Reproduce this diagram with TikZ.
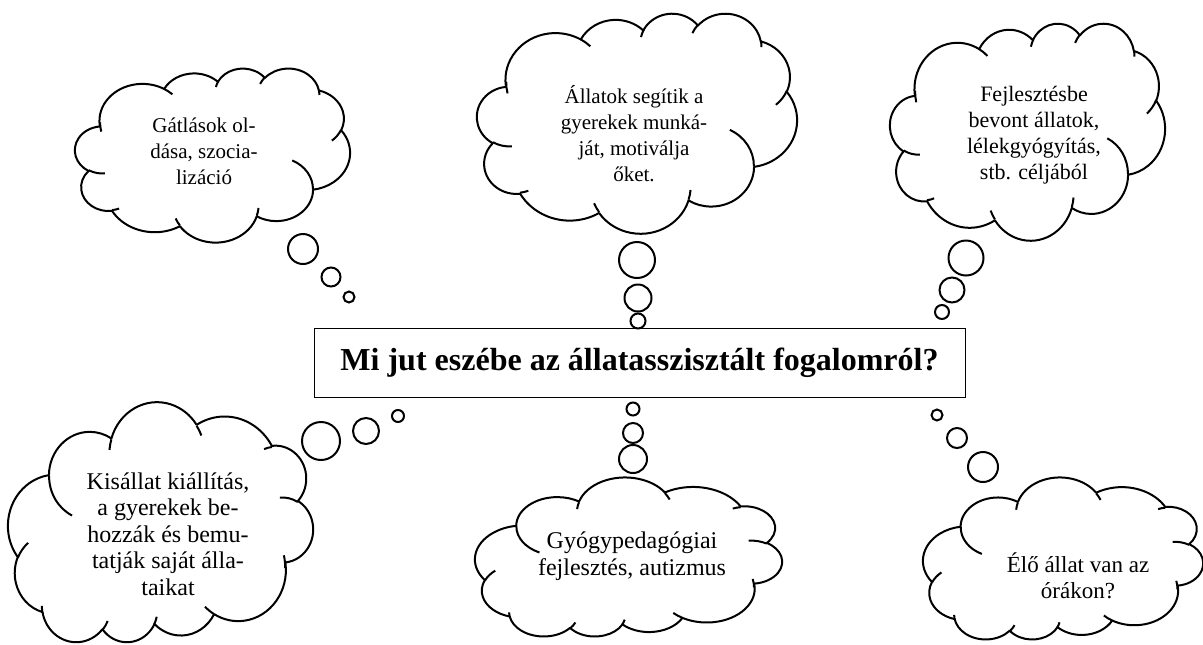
\documentclass[tikz,border=0pt]{standalone}
\usepackage{fontspec}
\setmainfont{Liberation Serif}
\usetikzlibrary{positioning}

\begin{document}
\begin{tikzpicture}[
    x=0.5pt, y=-0.5pt,
    cloudline/.style={draw, line width=1pt, line join=round},
    wcloud/.pic={
      % outline
      \draw[cloudline, fill=white] (9.03,33.26)
        arc (-187.75:-59.64:15.632 and 21.273)
        arc (-151.99:-45.50:12.345 and 16.822)
        arc (-153.46:-37.35:10.104 and 13.762)
        arc (-139.76:-10.19:11.243 and 15.266)
        arc (-74.80:23.26:12.345 and 16.836)
        arc (-37.53:81.86:15.683 and 21.343)
        arc (0.46:121.99:13.391 and 18.211)
        arc (16.89:146.14:15.630 and 21.331)
        arc (59.09:150.10:17.870 and 24.405)
        arc (-276.71:-136.96:10.093 and 13.699)
        arc (-239.79:-95.86:10.058 and 13.762) -- cycle;
      % creases
      \draw[cloudline]
        (10.86,60.60) arc (85.55:120.36:10.058 and 13.762)
        (16.04,80.79) arc (68.24:83.30:10.093 and 13.699)
        (38.14,90.49) arc (146.23:158.47:15.630 and 21.331)
        (66.73,80.44) arc (4.74:16.84:15.630 and 21.331)
        (79.00,53.13) arc (-64.03:0.46:13.391 and 18.211)
        (96.76,35.54) arc (23.21:49.65:12.345 and 16.836)
        (88.71,12.56) arc (-10.21:0.82:11.243 and 15.266)
        (67.31,9.15) arc (-156.29:-139.70:11.243 and 15.266)
        (51.25,10.93) arc (-167.73:-153.49:10.104 and 13.762)
        (32.41,12.02) arc (-59.64:-45.74:15.632 and 21.273)
        (9.55,36.55) arc (166.61:181.05:15.632 and 21.273);
    },
    bubble/.style={circle, draw, line width=1pt, fill=white, inner sep=0pt},
    thought/.style={align=center, inner sep=0pt, font=\fontsize{12}{13.25}\selectfont},
    question/.style={draw, line width=0.5pt, minimum width=325.5pt, minimum height=34.5pt,
      font=\fontsize{16}{19}\selectfont\bfseries},
  ]
  \useasboundingbox (0,0) rectangle (1203,644);

  % Clouds (upper row upright, lower row turned round)
  \pic[xscale=2.75, yscale=1.74] at (75,68) {wcloud};
  \pic[xscale=3.20, yscale=2.20] at (477,13) {wcloud};
  \pic[xscale=2.75, yscale=2.17] at (890,23) {wcloud};
  \pic[xscale=-3.05, yscale=-2.40] at (313,643) {wcloud};
  \pic[xscale=-3.07, yscale=-1.59] at (782,637) {wcloud};
  \pic[xscale=-2.80, yscale=-1.62] at (1203,640) {wcloud};

  % Question
  \node[question] (question) at (639.5,362.5) {Mi jut eszébe az állatasszisztált fogalomról?};

  % Thoughts
  \node[thought, font=\fontsize{10.5}{13}\selectfont] (gatlas) at (204,151) {Gátlások ol-\\dása, szocia-\\lizáció};
  \node[thought, font=\fontsize{10.5}{13}\selectfont] (motival) at (634,134) {Állatok segítik a\\gyerekek munká-\\ját, motiválja\\őket.};
  \node[thought, font=\fontsize{11}{13}\selectfont] (fejleszt) at (1034,135) {Fejlesztésbe\\bevont állatok,\\lélekgyógyítás,\\stb. céljából};
  \node[thought] (kisallat) at (168,534) {Kisállat kiállítás,\\a gyerekek be-\\hozzák és bemu-\\tatják saját álla-\\taikat};
  \node[thought] (gyogyped) at (632,556) {Gyógypedagógiai\\fejlesztés, autizmus};
  \node[thought, font=\fontsize{11.5}{13.25}\selectfont] (elo) at (1078,576) {Élő állat van az\\órákon?};

  % Bubbles
  \node[bubble, minimum size=15pt]   (gatlas1) at (303,249) {};
  \node[bubble, minimum size=9.5pt]  (gatlas2) at (331,277) {};
  \node[bubble, minimum size=5.5pt]  (gatlas3) at (349,297) {};

  \node[bubble, minimum size=18pt]   (motival1) at (637,260) {};
  \node[bubble, minimum size=13.5pt] (motival2) at (638,298) {};
  \node[bubble, minimum size=7.5pt]  (motival3) at (638,321) {};

  \node[bubble, minimum size=17.5pt] (fejleszt1) at (966,258) {};
  \node[bubble, minimum size=12.5pt] (fejleszt2) at (952,290) {};
  \node[bubble, minimum size=7pt]    (fejleszt3) at (942,312) {};

  \node[bubble, minimum size=19pt]   (kisallat1) at (321,441) {};
  \node[bubble, minimum size=13pt]   (kisallat2) at (366,431) {};
  \node[bubble, minimum size=6pt]    (kisallat3) at (398,416) {};

  \node[bubble, minimum size=6.5pt]  (gyogyped1) at (633,409) {};
  \node[bubble, minimum size=10pt]   (gyogyped2) at (633,433) {};
  \node[bubble, minimum size=14pt]   (gyogyped3) at (633,459) {};

  \node[bubble, minimum size=5.5pt]  (elo1) at (937,415) {};
  \node[bubble, minimum size=10pt]   (elo2) at (957,438) {};
  \node[bubble, minimum size=15pt]   (elo3) at (983,467) {};
\end{tikzpicture}
\end{document}
